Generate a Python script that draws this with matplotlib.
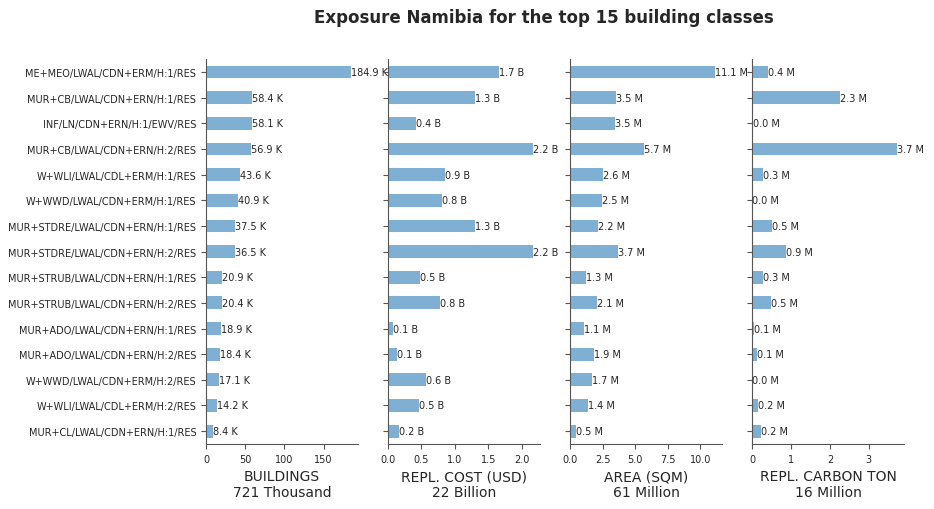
import numpy as np
import matplotlib
matplotlib.use("Agg")
import matplotlib.pyplot as plt

# building classes, top to bottom
classes = [
    "ME+MEO/LWAL/CDN+ERM/H:1/RES",
    "MUR+CB/LWAL/CDN+ERN/H:1/RES",
    "INF/LN/CDN+ERN/H:1/EWV/RES",
    "MUR+CB/LWAL/CDN+ERN/H:2/RES",
    "W+WLI/LWAL/CDL+ERM/H:1/RES",
    "W+WWD/LWAL/CDN+ERM/H:1/RES",
    "MUR+STDRE/LWAL/CDN+ERN/H:1/RES",
    "MUR+STDRE/LWAL/CDN+ERN/H:2/RES",
    "MUR+STRUB/LWAL/CDN+ERN/H:1/RES",
    "MUR+STRUB/LWAL/CDN+ERN/H:2/RES",
    "MUR+ADO/LWAL/CDN+ERN/H:1/RES",
    "MUR+ADO/LWAL/CDN+ERN/H:2/RES",
    "W+WWD/LWAL/CDN+ERM/H:2/RES",
    "W+WLI/LWAL/CDL+ERM/H:2/RES",
    "MUR+CL/LWAL/CDN+ERN/H:1/RES",
]

buildings = [184.9, 58.4, 58.1, 56.9, 43.6, 40.9, 37.5, 36.5, 20.9, 20.4, 18.9, 18.4, 17.1, 14.2, 8.4]  # thousand
cost = [1.66, 1.30, 0.42, 2.17, 0.86, 0.81, 1.30, 2.17, 0.48, 0.78, 0.07, 0.14, 0.57, 0.47, 0.16]  # billion
area = [11.13, 3.50, 3.45, 5.72, 2.57, 2.45, 2.18, 3.66, 1.26, 2.06, 1.10, 1.86, 1.72, 1.40, 0.47]  # million
carbon = [0.42, 2.26, 0.03, 3.72, 0.27, 0.01, 0.52, 0.86, 0.29, 0.49, 0.06, 0.12, 0.01, 0.16, 0.22]  # million

series = [buildings, cost, area, carbon]
units = ["K", "B", "M", "M"]
xlabels = ["BUILDINGS\n721 Thousand", "REPL. COST (USD)\n22 Billion",
           "AREA (SQM)\n61 Million", "REPL. CARBON TON\n16 Million"]
title = "Exposure Namibia for the top 15 building classes"

bar_color = "#7fb0d3"
text_color = "#262626"
spine_color = "#555555"

plt.rcParams["font.family"] = "DejaVu Sans"

fig, axes = plt.subplots(1, 4, figsize=(9.34, 5.1), dpi=100, sharey=True)
fig.subplots_adjust(left=0.2206, right=0.968, top=0.882, bottom=0.1275, wspace=0.197)

y = np.arange(len(classes))
for ax, vals, unit, xl in zip(axes, series, units, xlabels):
    ax.barh(y, vals, height=0.5, color=bar_color)
    for yi, v in zip(y, vals):
        ax.text(v, yi, "%.1f %s" % (v, unit), va="center", ha="left",
                fontsize=7, color=text_color)
    ax.set_xlim(0, max(vals) * 1.05)
    ax.set_xlabel(xl, fontsize=10, color=text_color)
    for s in ["top", "right"]:
        ax.spines[s].set_visible(False)
    for s in ["left", "bottom"]:
        ax.spines[s].set_color(spine_color)
    ax.tick_params(axis="both", labelsize=7, colors=spine_color, labelcolor=text_color,
                   length=3.5)

axes[0].set_ylim(len(classes) - 0.5, -0.5)
axes[0].set_yticks(y)
axes[0].set_yticklabels(classes)
axes[0].set_xticks([0, 50, 100, 150])
axes[3].set_xticks([0, 1, 2, 3])

fig.text(0.582, 0.965, title, ha="center", va="center", fontsize=12,
         fontweight="bold", color=text_color)

fig.savefig("out.png", dpi=100)
